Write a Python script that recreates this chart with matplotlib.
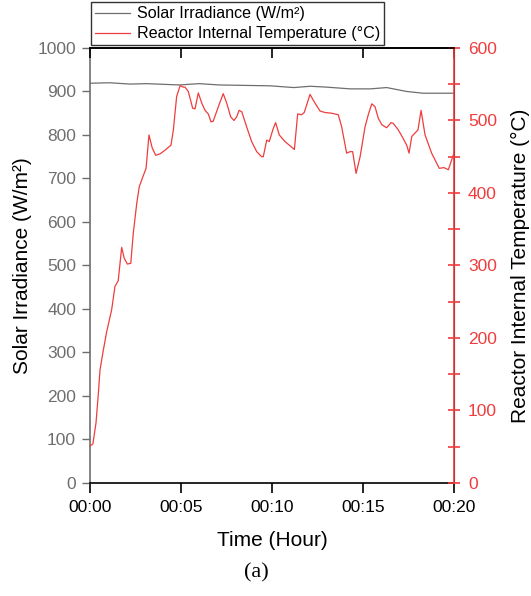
import matplotlib
matplotlib.use("Agg")
import matplotlib.pyplot as plt
from matplotlib.ticker import FixedLocator, FuncFormatter, MultipleLocator

plt.rcParams['font.family'] = ['Liberation Sans', 'DejaVu Sans']

# Solar irradiance (W/m²) versus elapsed time (minutes)
irr_time = [0.0, 1.1, 2.2, 3.1, 4.9, 6.0, 7.1, 9.9, 11.2, 12.1, 13.0, 14.3,
            15.4, 16.3, 17.4, 18.3, 20.0]
irr_value = [919, 920, 917, 918, 915, 918, 915, 913, 909, 912, 910, 906,
             906, 909, 900, 896, 896]

# Reactor internal temperature (°C) versus elapsed time (minutes)
temp_time = [0.00, 0.16, 0.33, 0.46, 0.55, 0.73, 0.92, 1.19, 1.37, 1.55,
             1.74, 1.88, 2.05, 2.24, 2.38, 2.57, 2.71, 2.87, 3.08, 3.24,
             3.42, 3.61, 3.85, 4.12, 4.45, 4.58, 4.76, 4.95, 5.13, 5.22,
             5.40, 5.64, 5.77, 5.95, 6.14, 6.32, 6.50, 6.65, 6.77, 7.05,
             7.32, 7.51, 7.73, 7.91, 8.06, 8.19, 8.34, 8.61, 8.88, 9.16,
             9.43, 9.52, 9.71, 9.85, 10.07, 10.20, 10.40, 10.71, 11.23, 11.41,
             11.63, 11.77, 12.09, 12.36, 12.64, 12.91, 13.28, 13.64, 13.83, 14.10,
             14.29, 14.43, 14.62, 14.84, 15.11, 15.29, 15.48, 15.66, 15.84, 16.04,
             16.30, 16.54, 16.66, 16.94, 17.21, 17.40, 17.53, 17.68, 18.02, 18.19,
             18.41, 18.77, 19.19, 19.45, 19.69, 19.93, 20.00]
temp_value = [51, 54, 83, 124, 156, 183, 209, 239, 271, 279,
              325, 310, 302, 303, 345, 386, 409, 420, 434, 480,
              462, 452, 454, 459, 466, 487, 533, 548, 546, 546,
              540, 517, 516, 538, 524, 514, 509, 498, 499, 519,
              537, 524, 505, 500, 505, 514, 512, 491, 471, 457,
              450, 450, 473, 471, 489, 497, 480, 471, 460, 509,
              508, 511, 536, 524, 513, 511, 510, 508, 491, 455,
              457, 457, 427, 450, 491, 508, 523, 519, 503, 494,
              490, 497, 496, 487, 475, 466, 455, 478, 487, 514,
              480, 455, 434, 435, 432, 450, 455]

x_ticks = [0, 5, 10, 15, 20]

GRAY = '#6e6e6e'
RED = '#f03c3c'

fig = plt.figure(figsize=(5.31, 5.96), dpi=100)
ax = fig.add_axes([0.1695, 0.1896, 0.6855, 0.7299])
ax2 = ax.twinx()

l1, = ax.plot(irr_time, irr_value, color=GRAY, lw=0.9,
              label='Solar Irradiance (W/m²)')
l2, = ax2.plot(temp_time, temp_value, color=RED, lw=0.9,
               label='Reactor Internal Temperature (°C)')

ax.set_xlim(0, 20)
ax.set_ylim(0, 1000)
ax2.set_ylim(0, 600)

fmt = FuncFormatter(lambda v, p: f"00:{int(round(v)):02d}")
ax.xaxis.set_major_locator(FixedLocator(x_ticks))
ax.xaxis.set_major_formatter(fmt)
ax.yaxis.set_major_locator(MultipleLocator(100))
ax2.yaxis.set_major_locator(MultipleLocator(100))
ax2.yaxis.set_minor_locator(MultipleLocator(50))

ax.tick_params(axis='x', which='major', direction='out', length=7, width=1.2,
               labelsize=12.5, colors='black', pad=5, top=False)
ax.tick_params(axis='y', which='major', direction='out', length=6, width=1.0,
               labelsize=12.5, colors=GRAY, pad=4)
ax2.tick_params(axis='y', which='both', direction='inout', length=8, width=1.2,
                labelsize=12.5, colors=RED, pad=6)

# inward ticks along the top edge, carried by the twin's x axis
ax2.xaxis.set_visible(True)
ax2.xaxis.set_major_locator(FixedLocator(x_ticks))
ax2.tick_params(axis='x', which='major', direction='in', length=7, width=1.2,
                top=True, bottom=False, labeltop=False, labelbottom=False,
                colors='black')

ax.spines['left'].set_color(GRAY)
ax.spines['left'].set_linewidth(1.2)
ax.spines['bottom'].set_linewidth(1.2)
ax.spines['top'].set_linewidth(1.2)
ax2.spines['top'].set_linewidth(1.2)
ax2.spines['bottom'].set_visible(False)
ax2.spines['right'].set_color(RED)
ax2.spines['right'].set_linewidth(1.2)
ax2.spines['left'].set_visible(False)

ax.set_xlabel('Time (Hour)', fontsize=15, labelpad=12)
ax.set_ylabel('Solar Irradiance (W/m²)', fontsize=15, labelpad=4)
ax2.set_ylabel('Reactor Internal Temperature (°C)', fontsize=15, labelpad=10)

leg = fig.legend([l1, l2], [l1.get_label(), l2.get_label()],
                 loc='upper left', bbox_to_anchor=(0.171, 0.996),
                 fontsize=11.6, frameon=True, fancybox=False, shadow=False,
                 borderpad=0.25, handlelength=2.2, handletextpad=0.4,
                 labelspacing=0.3, borderaxespad=0)
leg.get_frame().set_edgecolor('black')
leg.get_frame().set_linewidth(1.0)

fig.text(0.483, 0.038, '(a)', fontsize=16, family='Liberation Serif',
         ha='center', va='center')

fig.savefig('out.png', dpi=100)
